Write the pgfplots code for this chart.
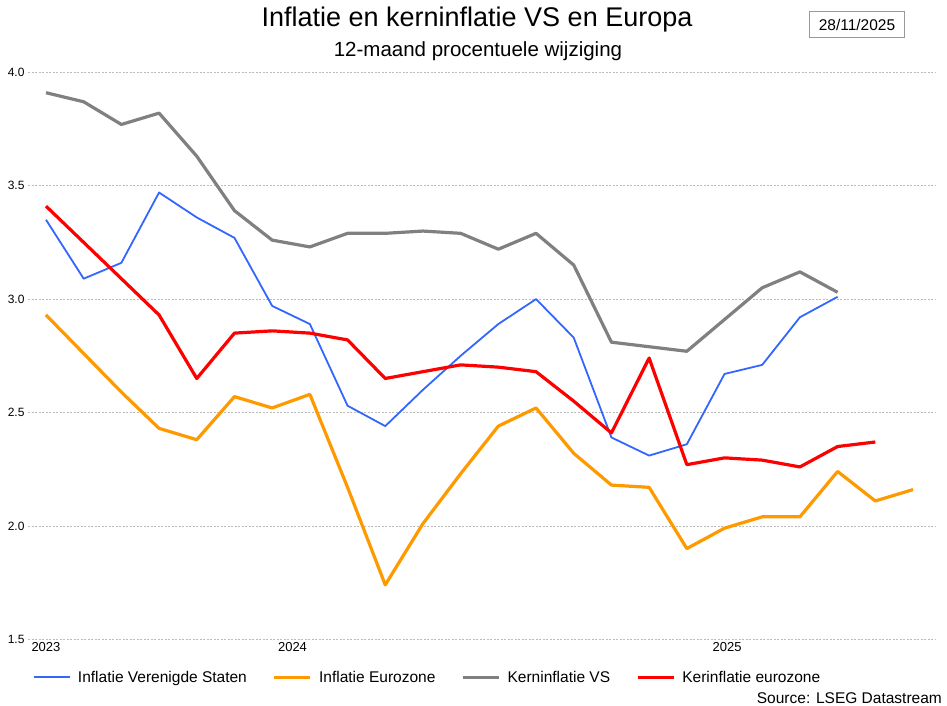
\documentclass[border=0pt]{standalone}
\usepackage{fontspec}
\setmainfont{Liberation Sans}
\usepackage{pgfplots}
\usepackage{pgfplotstable}
\pgfplotsset{compat=1.18}

\definecolor{usblue}{HTML}{3366FF}
\definecolor{ezorange}{HTML}{FF9900}
\definecolor{coregray}{HTML}{808080}
\definecolor{ezred}{HTML}{FF0000}
\definecolor{gridgray}{HTML}{BBBBBB}
\definecolor{boxgray}{HTML}{999999}

% monthly values, Dec 2023 onwards (index 0 = first point)
\pgfplotstableread{
i   us    ez    usc   ezc
0   3.35  2.93  3.91  3.41
1   3.09  2.76  3.87  3.25
2   3.16  2.59  3.77  3.09
3   3.47  2.43  3.82  2.93
4   3.36  2.38  3.63  2.65
5   3.27  2.57  3.39  2.85
6   2.97  2.52  3.26  2.86
7   2.89  2.58  3.23  2.85
8   2.53  2.17  3.29  2.82
9   2.44  1.74  3.29  2.65
10  2.60  2.01  3.30  2.68
11  2.75  2.23  3.29  2.71
12  2.89  2.44  3.22  2.70
13  3.00  2.52  3.29  2.68
14  2.83  2.32  3.15  2.55
15  2.39  2.18  2.81  2.41
16  2.31  2.17  2.79  2.74
17  2.36  1.90  2.77  2.27
18  2.67  1.99  2.91  2.30
19  2.71  2.04  3.05  2.29
20  2.92  2.04  3.12  2.26
21  3.01  2.24  3.03  2.35
22  nan   2.11  nan   2.37
23  nan   2.16  nan   nan
}\infl

\begin{document}
\begin{tikzpicture}
\path[use as bounding box] (0,0) rectangle (947pt,705pt);
\clip (0,0) rectangle (947pt,705pt);

\begin{axis}[
    at={(28pt,65.7pt)}, anchor=south west,
    scale only axis, width=908pt, height=567pt,
    xmin=-0.477, xmax=23.61,
    ymin=1.5, ymax=4.0,
    axis line style={draw=none},
    major tick length=0pt,
    xtick={0,6.54,18.07},
    xticklabels={2023,2024,2025},
    ytick={1.5,2.0,2.5,3.0,3.5,4.0},
    yticklabel style={/pgf/number format/fixed, /pgf/number format/precision=1,
        /pgf/number format/fixed zerofill, font=\fontsize{12}{14}\selectfont},
    xticklabel style={font=\fontsize{13}{15}\selectfont},
    /pgf/number format/assume math mode=true,
    ymajorgrids,
    grid style={gridgray, line width=0.8pt, dash pattern=on 2pt off 1.5pt},
    line join=round,
    legend style={at={(0.0055,-0.067)}, anchor=west, draw=none, fill=none,
        inner sep=0pt, font=\fontsize{15.5}{18}\selectfont,
        legend columns=-1,
        /tikz/every even column/.append style={column sep=24pt}},
    legend image code/.code={\draw[#1] (0pt,0pt) -- (36pt,0pt); \path (41pt,0pt);},
]
\addplot[usblue, line width=1.8pt] table[x=i, y=us] {\infl};
\addplot[ezorange, line width=3.2pt] table[x=i, y=ez] {\infl};
\addplot[coregray, line width=3.2pt] table[x=i, y=usc] {\infl};
\addplot[ezred, line width=3.2pt] table[x=i, y=ezc] {\infl};
\legend{Inflatie Verenigde Staten, Inflatie Eurozone, Kerninflatie VS, Kerinflatie eurozone}
\end{axis}

\node[anchor=base, font=\fontsize{27}{32}\selectfont] at (477pt,678.3pt) {Inflatie en kerninflatie VS en Europa};
\node[anchor=base, font=\fontsize{20.5}{24}\selectfont] at (478pt,648pt) {12-maand procentuele wijziging};
\node[draw=boxgray, line width=1pt, minimum width=95.4pt, minimum height=26.4pt,
      inner sep=0pt, font=\fontsize{15.5}{18}\selectfont] at (857pt,680.5pt) {28/11/2025};
\node[anchor=base west, inner sep=0pt, font=\fontsize{15.5}{18}\selectfont] at (756.7pt,2pt) {Source: LSEG Datastream};
\end{tikzpicture}
\end{document}
